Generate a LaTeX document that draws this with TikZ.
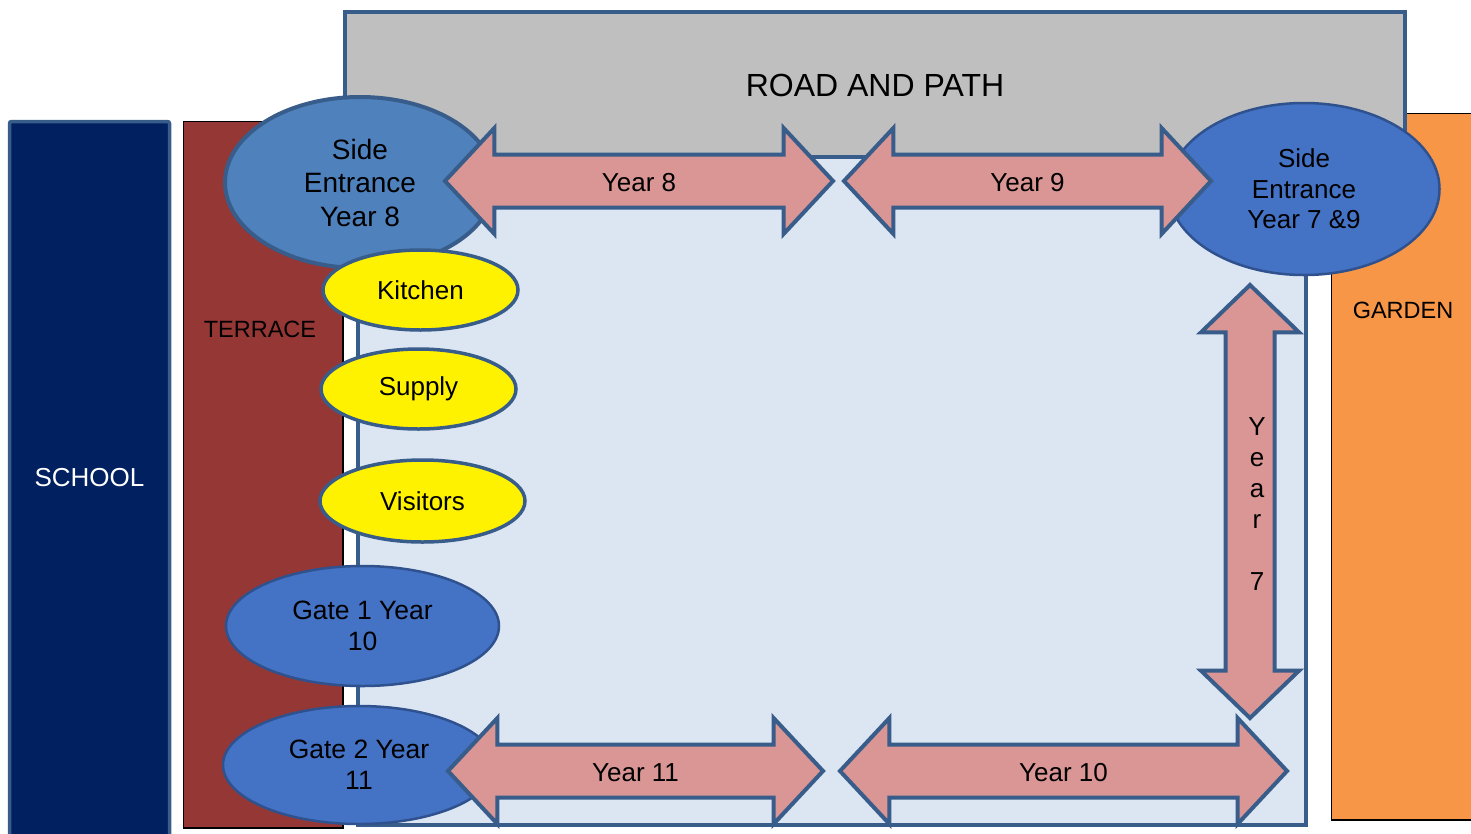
\documentclass[tikz,border=0pt]{standalone}
\usepackage{fontspec}
\setmainfont{Liberation Sans}
\usepackage{tikz}
\usetikzlibrary{arrows,shapes}
\usetikzlibrary{positioning}

\definecolor{edgeblue}{HTML}{385D8A}
\definecolor{gateedge}{HTML}{2F528F}
\definecolor{schoolblue}{HTML}{002060}
\definecolor{terracered}{HTML}{953735}
\definecolor{gardenorange}{HTML}{F79646}
\definecolor{yardblue}{HTML}{DCE6F2}
\definecolor{roadgrey}{HTML}{BFBFBF}
\definecolor{sideblue}{HTML}{4F81BD}
\definecolor{gateblue}{HTML}{4472C4}
\definecolor{routepink}{HTML}{D99694}

\tikzstyle{zone} = [draw = edgeblue, line width = 3.5pt]
\tikzstyle{plain} = [draw = black, line width = 1.5pt]
\tikzstyle{entrance} = [ellipse, inner sep = 0pt, align = center, draw = edgeblue, line width = 4pt, fill = sideblue, font = \fontsize{28}{33.5}\selectfont]
\tikzstyle{gate} = [ellipse, inner sep = 0pt, align = center, draw = gateedge, line width = 2.5pt, fill = gateblue, font = \fontsize{26.5}{31}\selectfont]
\tikzstyle{room} = [ellipse, inner sep = 0pt, draw = edgeblue, line width = 3.5pt, fill = yellow, font = \fontsize{26}{31}\selectfont]
\tikzstyle{route} = [double arrow, draw = edgeblue, fill = routepink, line width = 4pt, double arrow tip angle = 94, double arrow head extend = 26.5pt, inner xsep = 0pt, inner ysep = 12pt, text height = 23pt, text depth = 2pt, font = \fontsize{26}{31}\selectfont]

\begin{document}
\begin{tikzpicture}[x = 1pt, y = -1pt]
	\useasboundingbox (0,0) rectangle (1471,833);
	
	% Areas round the yard
	\draw[zone, fill = schoolblue, rounded corners = 2pt] (9.5,121.5) rectangle (169.5,838);
	\draw[plain, fill = terracered] (183.5,121.5) rectangle (343,828);
	\draw[plain, fill = gardenorange] (1331.5,113.5) rectangle (1480,820);
	\draw[zone, fill = yardblue] (358,157) rectangle (1306,825);
	\draw[zone, line width = 4pt, fill = roadgrey] (345,12) rectangle (1405,157);
	
	\node[font = \fontsize{26}{31}\selectfont, text = white] (school) at (89.5,478) {SCHOOL};
	\node[font = \fontsize{23.5}{28}\selectfont] (terrace) at (260,329) {TERRACE};
	\node[font = \fontsize{23.5}{28}\selectfont] (garden) at (1403,310) {GARDEN};
	\node[font = \fontsize{32}{38}\selectfont] (road) at (875,85) {ROAD AND PATH};
	
	% Entrances and gates
	\node[entrance, minimum width = 270pt, minimum height = 171pt] (side8) at (360,182.5) {Side\\Entrance\\Year 8};
	\node[gate, minimum width = 271pt, minimum height = 172pt, font = \fontsize{26}{30.5}\selectfont] (side79) at (1304,189) {Side\\Entrance\\Year 7 \&9};
	\node[gate, minimum width = 273pt, minimum height = 120pt] (gate1) at (362.5,626) {Gate 1 Year\\10};
	\node[gate, minimum width = 272pt, minimum height = 118pt] (gate2) at (359,765) {Gate 2 Year\\11};
	
	% Rooms by the terrace
	\node[room, minimum width = 195pt, minimum height = 80pt] (kitchen) at (420.5,290) {Kitchen};
	\node[room, minimum width = 195pt, minimum height = 80pt] (supply) at (418.5,389) {Supply};
	\node[room, minimum width = 205pt, minimum height = 82pt] (visitors) at (422.5,501) {Visitors};
	
	% Routes for each year
	\node[route, minimum height = 388pt, minimum width = 102pt] (year8) at (639,181) {Year 8};
	\node[route, minimum height = 367pt, minimum width = 102pt] (year9) at (1027.5,181) {Year 9};
	\node[route, minimum height = 375pt, minimum width = 102pt] (year11) at (635.5,771) {Year 11};
	\node[route, minimum height = 447pt, minimum width = 102pt] (year10) at (1063.5,771) {Year 10};
	\node[route, rotate = 90, minimum height = 433pt, minimum width = 94pt, double arrow head extend = 24.5pt, inner ysep = 10pt, double arrow tip angle = 92] (year7) at (1250,501.5) {};
	\node[font = \fontsize{26}{31}\selectfont, align = center] (year7text) at (1257,504.5) {Y\\e\\a\\r\\[31pt]7};
	
\end{tikzpicture}
\end{document}
